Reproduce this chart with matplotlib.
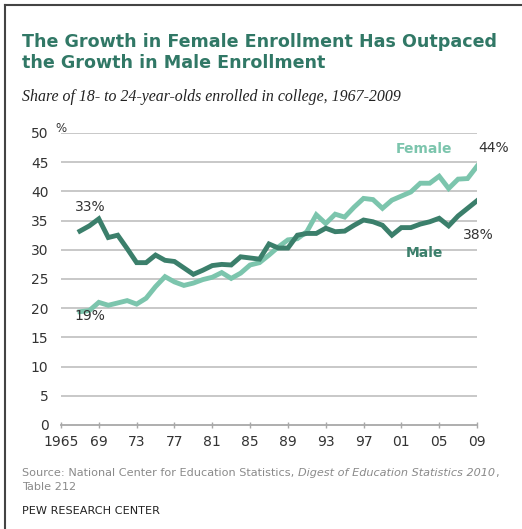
import matplotlib.pyplot as plt
from matplotlib.lines import Line2D

years = list(range(1967, 2010))
male = [33.2, 34.1, 35.3, 32.1, 32.5, 30.2, 27.8, 27.8, 29.1, 28.2,
        28.0, 26.9, 25.8, 26.5, 27.3, 27.5, 27.4, 28.8, 28.6, 28.4,
        31.0, 30.3, 30.3, 32.5, 32.8, 32.8, 33.7, 33.1, 33.2, 34.2,
        35.1, 34.8, 34.2, 32.5, 33.8, 33.8, 34.4, 34.8, 35.4, 34.1,
        35.8, 37.1, 38.4]
female = [19.4, 19.6, 21.0, 20.5, 20.9, 21.3, 20.7, 21.7, 23.7, 25.4,
          24.5, 23.9, 24.3, 24.9, 25.3, 26.1, 25.1, 26.0, 27.4, 27.8,
          29.1, 30.5, 31.7, 31.9, 33.1, 36.0, 34.5, 36.1, 35.6, 37.3,
          38.8, 38.6, 37.1, 38.5, 39.2, 39.9, 41.4, 41.4, 42.6, 40.5,
          42.1, 42.2, 44.3]
xticks = [1965, 1969, 1973, 1977, 1981, 1985, 1989, 1993, 1997, 2001, 2005, 2009]
xticklabels = ["1965", "69", "73", "77", "81", "85", "89", "93", "97", "01", "05", "09"]
yticks = list(range(0, 55, 5))

male_col = "#3b7f6b"
female_col = "#7cc5ad"
title_col = "#317866"
grid_col = "#c4c4c4"
text_col = "#333333"
src_col = "#8a8a8a"

fig = plt.figure(figsize=(5.22, 5.29), dpi=100)
W, H = 522, 529

# ramka u gory i z lewej
fig.add_artist(Line2D([5 / W, 5 / W], [0, 1 - 5 / H], color="#444444", lw=1.5))
fig.add_artist(Line2D([5 / W, 1], [1 - 5 / H, 1 - 5 / H], color="#444444", lw=1.5))

ax = fig.add_axes([61 / W, 1 - 425 / H, 416 / W, 292 / H])
for y in yticks[1:]:
    ax.axhline(y, color=grid_col, lw=1.3, zorder=1)
ax.plot(years, male, color=male_col, lw=3.5, solid_joinstyle="miter", zorder=3)
ax.plot(years, female, color=female_col, lw=3.5, solid_joinstyle="miter", zorder=2)

ax.set_xlim(1965, 2009)
ax.set_ylim(0, 50)
for s in ["top", "right", "left"]:
    ax.spines[s].set_visible(False)
ax.spines["bottom"].set_color("#a8a8a8")
ax.spines["bottom"].set_linewidth(1.3)
ax.set_xticks(xticks)
ax.set_xticklabels(xticklabels)
ax.set_yticks(yticks)
ax.tick_params(axis="y", length=0, pad=9, labelsize=10, labelcolor=text_col)
ax.tick_params(axis="x", direction="inout", length=5, color="#a8a8a8", width=1,
               pad=5, labelsize=10, labelcolor=text_col)
ax.patch.set_alpha(0)

ax.text(1964.4, 50.7, "%", fontsize=8.5, color=text_col, ha="left", va="center",
        clip_on=False)
ax.text(1968.1, 37.3, "33%", fontsize=10, color=text_col, ha="center", va="center")
ax.text(1968.1, 18.6, "19%", fontsize=10, color=text_col, ha="center", va="center")
ax.text(2003.4, 47.2, "Female", fontsize=10, color=female_col, fontweight="bold",
        ha="center", va="center")
ax.text(2003.4, 29.5, "Male", fontsize=10, color=male_col, fontweight="bold",
        ha="center", va="center")
ax.text(2010.8, 47.4, "44%", fontsize=10, color=text_col, ha="center", va="center",
        clip_on=False)
ax.text(2009.1, 32.5, "38%", fontsize=10, color=text_col, ha="center", va="center",
        clip_on=False)

fig.text(22 / W, 1 - 47 / H, "The Growth in Female Enrollment Has Outpaced",
         fontsize=12.6, fontweight="bold", color=title_col, ha="left", va="baseline")
fig.text(22 / W, 1 - 68 / H, "the Growth in Male Enrollment",
         fontsize=12.6, fontweight="bold", color=title_col, ha="left", va="baseline")
fig.text(22 / W, 1 - 101 / H, "Share of 18- to 24-year-olds enrolled in college, 1967-2009",
         fontsize=11.4, family="Liberation Serif", style="italic", color="#222222",
         ha="left", va="baseline")

# zrodlo: zwykly tekst + kursywa + przecinek, sklejane po szerokosci
renderer = fig.canvas.get_renderer()
x = 22 / W
for part, st in [("Source: National Center for Education Statistics, ", "normal"),
                 ("Digest of Education Statistics 2010", "italic"),
                 (",", "normal")]:
    t = fig.text(x, 1 - 476 / H, part, fontsize=8.15, style=st, color=src_col,
                 ha="left", va="baseline")
    bb = t.get_window_extent(renderer)
    x += bb.width / W
fig.text(22 / W, 1 - 490 / H, "Table 212", fontsize=8.15, color=src_col,
         ha="left", va="baseline")
fig.text(22 / W, 1 - 514 / H, "PEW RESEARCH CENTER", fontsize=8.15, color="#222222",
         ha="left", va="baseline")

fig.savefig("out.png", dpi=100)
